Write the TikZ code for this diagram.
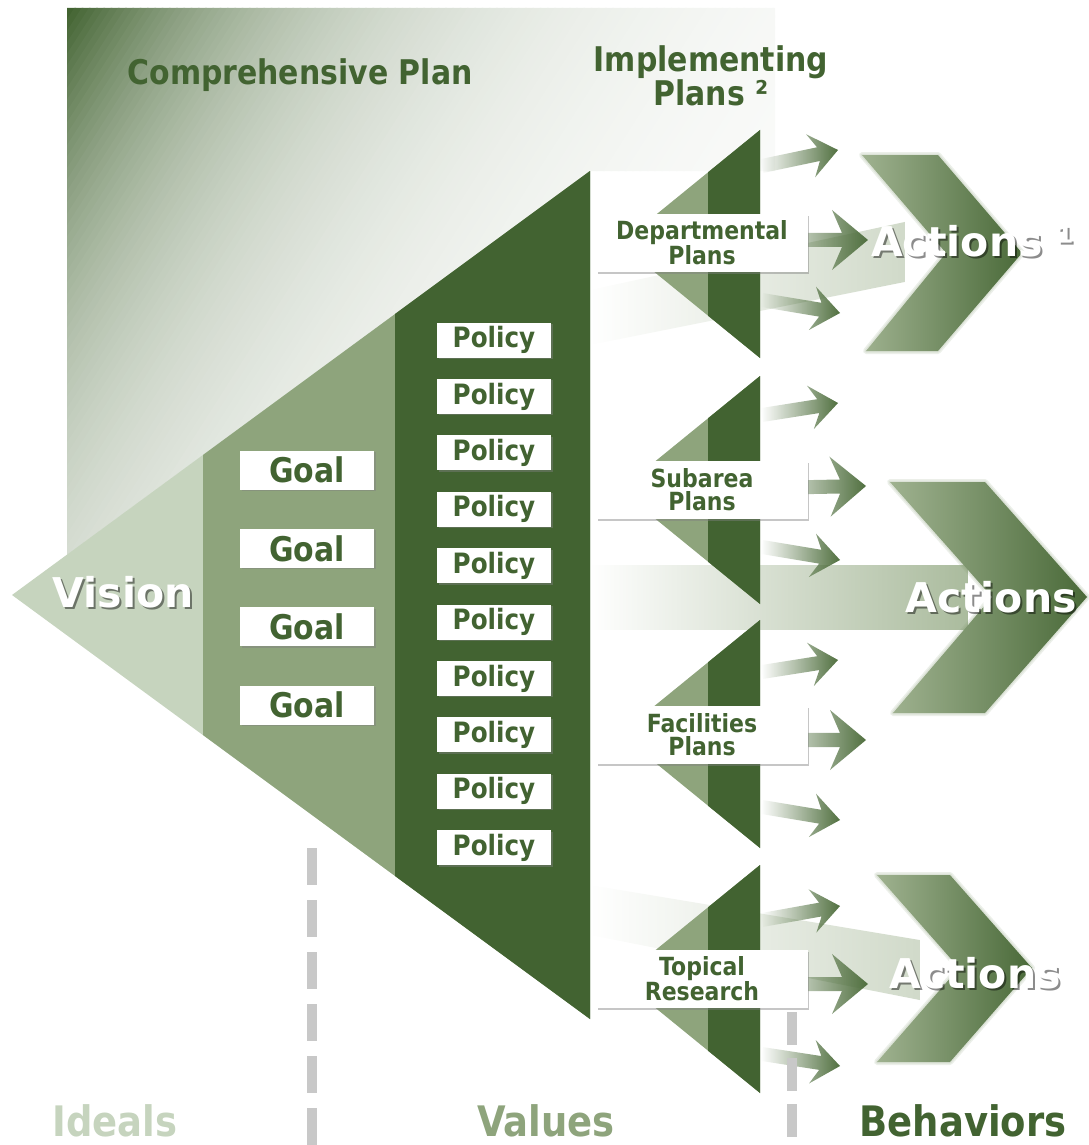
\documentclass[tikz,border=0pt]{standalone}
\usepackage{fontspec}
\setmainfont{DejaVu Sans}
\newfontfamily\cpcond{DejaVu Sans}[FakeStretch=0.88]
\usetikzlibrary{calc,shadows,fadings}

\definecolor{cpdark}{HTML}{426331}
\definecolor{cpmid}{HTML}{8EA47C}
\definecolor{cplight}{HTML}{C6D4BE}
\definecolor{cpgrey}{HTML}{C8C8C8}
\newcommand\cpfont[1]{\fontsize{#1}{#1}\selectfont\bfseries}
\newcommand\cpnarrow[2]{\cpcond\fontsize{#1}{#2}\selectfont\bfseries}
\tikzfading[name=fadein, left color=transparent!100, right color=transparent!0]

\tikzset{
  cp_box/.style = {fill=white, inner sep=0pt, align=center, text=cpdark,
    drop shadow={shadow xshift=1.5pt, shadow yshift=-1.5pt, opacity=.45}},% white label box
  goal_box/.style = {cp_box, minimum width=134pt, minimum height=39pt,
    font=\cpnarrow{34}{34}},% goal
  pol_box/.style = {cp_box, minimum width=114pt, minimum height=35pt,
    font=\cpnarrow{28}{28}},% policy
  impl_box/.style = {cp_box, minimum width=211pt, minimum height=58pt,
    font=\cpnarrow{25}{23}},% implementing plan
  cp_title/.style = {inner sep=0pt, align=center, text=cpdark,
    font=\cpnarrow{34}{28}},% headings at the top
  cp_foot/.style = {inner sep=0pt, font=\cpnarrow{42}{42}},% ideals, values, behaviors
  act_txt/.style = {inner sep=0pt, white, font=\cpfont{41}},% white big words
  act_shade/.style = {inner sep=0pt, black, opacity=.45, font=\cpfont{41},
    xshift=2pt, yshift=-2pt},% their shadow
  act_shaft/.style = {fill=cpmid!75!white, path fading=fadein},
  act_head/.style = {left color=cpmid!85!white, right color=cpdark!90!cpmid},
  act_blur/.style = {draw=cpmid!80!cpdark, line join=round, opacity=.15},
  plan_arrow/.style = {fill=cpdark!80!cpmid, path fading=fadein},
  cp_dash/.style = {cpgrey, line width=10pt}
}

% small arrow out of a plan: start, tip, head length, back, half width
\newcommand\planarrow[5]{%
  \coordinate (pa_s) at (#1);
  \coordinate (pa_t) at (#2);
  \coordinate (pa_h) at ($(pa_t)!#3!(pa_s)$);
  \coordinate (pa_b) at ($(pa_t)!#4!(pa_s)$);
  \fill[plan_arrow] ($(pa_s)!7pt!90:(pa_t)$) -- ($(pa_h)!7pt!-90:(pa_s)$)
    -- ($(pa_b)!#5!-90:(pa_s)$) -- (pa_t) -- ($(pa_b)!#5!90:(pa_s)$)
    -- ($(pa_h)!7pt!90:(pa_s)$) -- ($(pa_s)!7pt!-90:(pa_t)$) -- cycle;
}

\begin{document}
\begin{tikzpicture}[x=1pt, y=-1pt]
\useasboundingbox (0,0) rectangle (1088,1145);

% fading background of the comprehensive plan
\begin{scope}
  \clip (67,8) -- (775,8) -- (775,171) -- (590,171) -- (67,555) -- cycle;
  \foreach \u in {0,8,...,900}{
    \pgfmathsetmacro\p{100*exp(-\u/250)}
    \fill[cpdark!\p!white] (67+\u/1.1,8) -- (67+\u/1.1+9,8) -- (67,8+\u/0.7+14)
      -- (67,8+\u/0.7) -- cycle;
  }
\end{scope}

% big actions arrows
\fill[act_shaft, fill opacity=.55] (590,290) -- (905,222) -- (905,282) -- (590,345) -- cycle;
\foreach \w in {6,3}
  \draw[act_blur, line width=\w] (862,155) -- (938,155) -- (1022,253) -- (938,351)
    -- (866,351) -- (946,253) -- cycle;
\shade[act_head] (862,155) -- (938,155) -- (1022,253) -- (938,351) -- (866,351)
  -- (946,253) -- cycle;
\fill[act_shaft] (590,565) -- (968,565) -- (968,630) -- (590,630) -- cycle;
\foreach \w in {6,3}
  \draw[act_blur, line width=\w] (890,482) -- (985,482) -- (1087,597) -- (985,713)
    -- (893,713) -- (992,597) -- cycle;
\shade[act_head] (890,482) -- (985,482) -- (1087,597) -- (985,713) -- (893,713)
  -- (992,597) -- cycle;
\fill[act_shaft, fill opacity=.55] (590,885) -- (920,940) -- (920,1000) -- (590,935) -- cycle;
\foreach \w in {6,3}
  \draw[act_blur, line width=\w] (877,875) -- (950,875) -- (1032,968) -- (950,1062)
    -- (877,1062) -- (959,968) -- cycle;
\shade[act_head] (877,875) -- (950,875) -- (1032,968) -- (950,1062) -- (877,1062)
  -- (959,968) -- cycle;

% vision, goals, policies
\fill[cplight] (12,595) -- (590,171) -- (590,1019) -- cycle;
\fill[cpmid] (203,455) -- (590,171) -- (590,1019) -- (203,735) -- cycle;
\fill[cpdark] (395,314) -- (590,171) -- (590,1019) -- (395,876) -- cycle;

% implementing plans
\foreach \c in {244,490,734,979}{
  \fill[cpmid] (760,\c-114) -- (620,\c) -- (760,\c+114) -- cycle;
  \fill[cpdark] (708,\c-71.7) -- (760,\c-114) -- (760,\c+114) -- (708,\c+71.7) -- cycle;
}

% arrows out of the plans
\planarrow{762,166}{838,150}{20pt}{28pt}{22pt}
\planarrow{762,240}{868,240}{26pt}{36pt}{30pt}
\planarrow{762,300}{840,313}{20pt}{28pt}{22pt}
\planarrow{762,415}{838,403}{20pt}{28pt}{22pt}
\planarrow{762,488}{866,486}{26pt}{36pt}{30pt}
\planarrow{762,547}{840,560}{20pt}{28pt}{22pt}
\planarrow{762,672}{838,660}{20pt}{28pt}{22pt}
\planarrow{762,740}{866,740}{26pt}{36pt}{30pt}
\planarrow{762,807}{840,820}{20pt}{28pt}{22pt}
\planarrow{762,920}{840,906}{20pt}{28pt}{22pt}
\planarrow{762,984}{868,984}{26pt}{36pt}{30pt}
\planarrow{762,1054}{840,1066}{20pt}{28pt}{22pt}

% separators
\draw[cp_dash, dash pattern=on 37pt off 15pt] (312,848) -- (312,1145);
\draw[cp_dash, dash pattern=on 33pt off 13pt] (792,1012) -- (792,1145);

% boxes
\foreach \i in {0,...,3}
  \node[goal_box] (goal\i) at (307,{470+78.4*\i}) {Goal};
\foreach \i in {0,...,9}
  \node[pol_box] (pol\i) at (494,{340+56.4*\i}) {Policy};
\node[impl_box] (dep) at (702,243) {Departmental\\Plans};
\node[impl_box] (sub) at (702,490) {Subarea\\Plans};
\node[impl_box] (fac) at (702,735) {Facilities\\Plans};
\node[impl_box] (top) at (702,979) {Topical\\Research};

% headings and words
\node[cp_title] (comp) at (300,75) {Comprehensive Plan};
\node[cp_title] (impl) at (711,76) {Implementing\\Plans ²};
\node[act_shade] (vis_sh) at (123,592) {Vision};
\node[act_txt] (vis) at (123,592) {Vision};
\node[act_shade] (act1_sh) at (973,241) {Actions ¹};
\node[act_txt] (act1) at (973,241) {Actions ¹};
\node[act_shade] (act2_sh) at (991,597) {Actions};
\node[act_txt] (act2) at (991,597) {Actions};
\node[act_shade] (act3_sh) at (975,973) {Actions};
\node[act_txt] (act3) at (975,973) {Actions};
\node[cp_foot, cplight] (ideals) at (115,1121) {Ideals};
\node[cp_foot, cpmid] (values) at (546,1121) {Values};
\node[cp_foot, cpdark] (behav) at (963,1121) {Behaviors};
\end{tikzpicture}
\end{document}
